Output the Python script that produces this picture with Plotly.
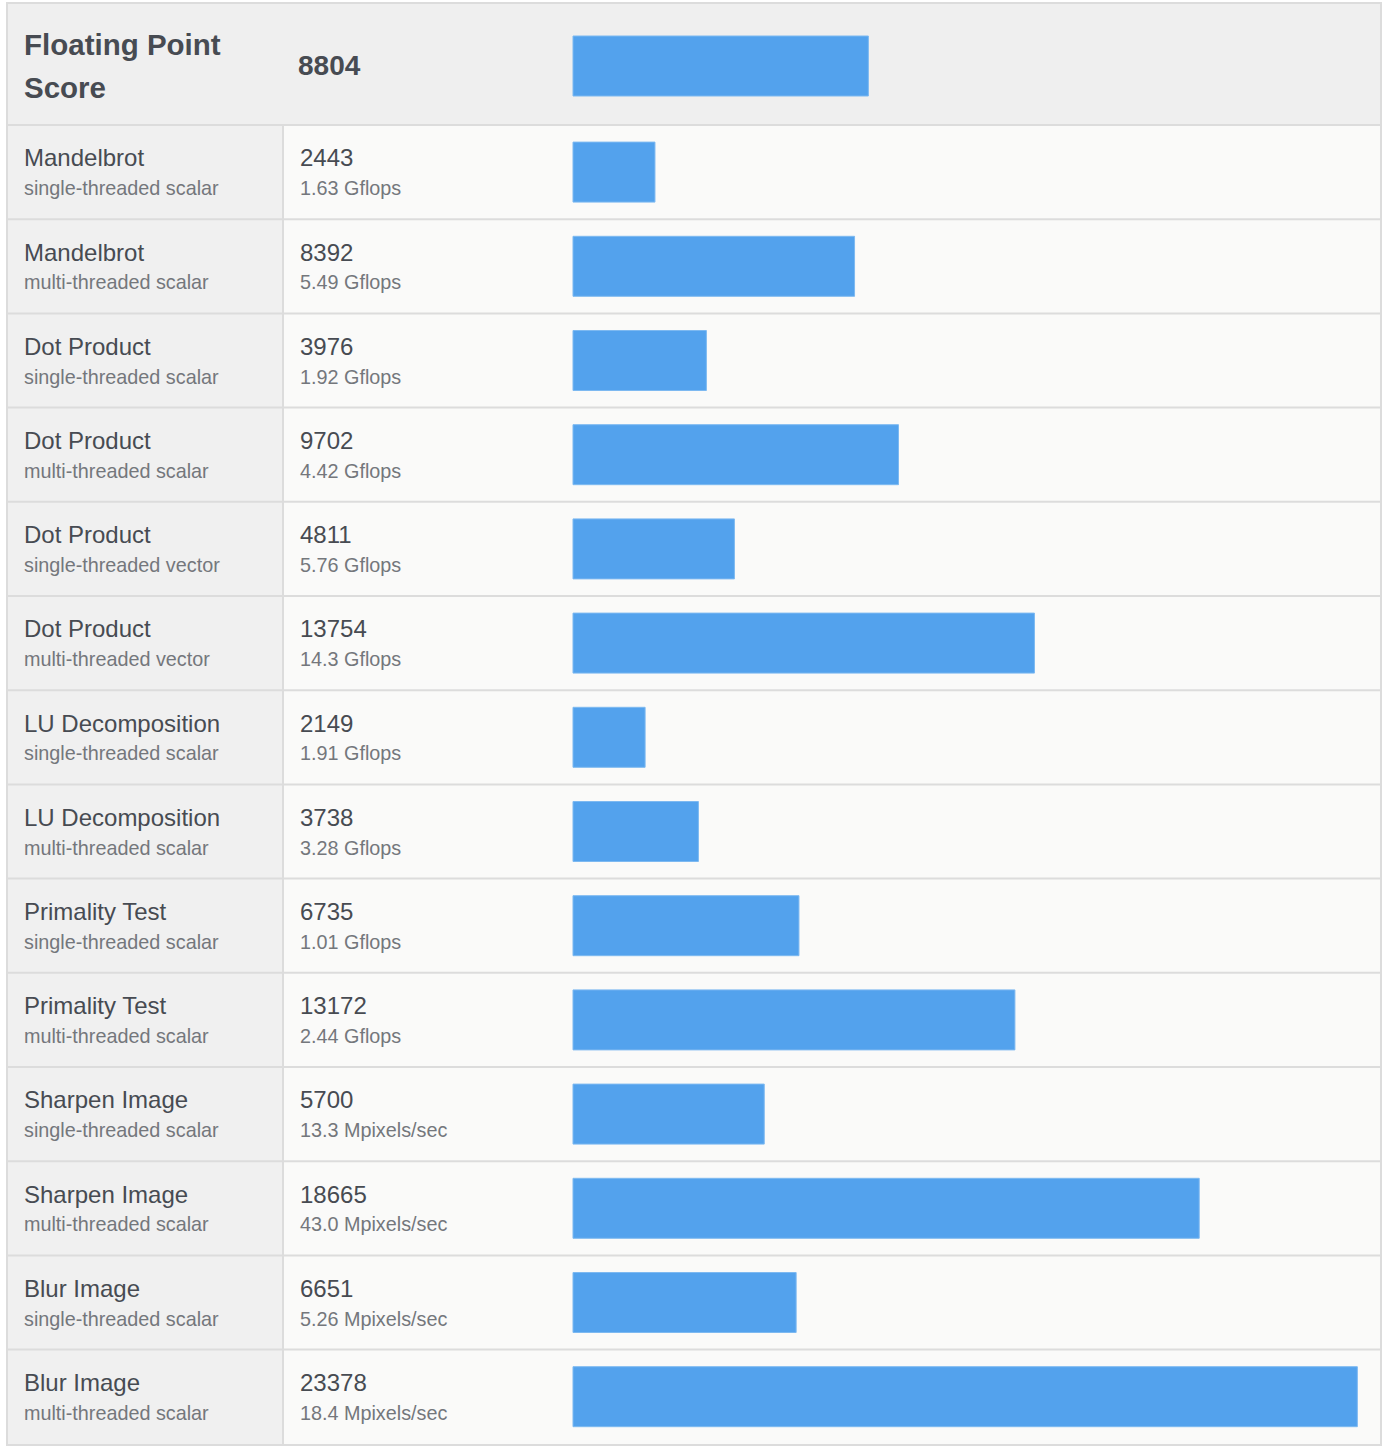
import plotly.graph_objects as go

# ---- data ----
header_title = ["Floating Point", "Score"]
header_score = 8804
tests = ["Mandelbrot", "Mandelbrot", "Dot Product", "Dot Product", "Dot Product", "Dot Product",
         "LU Decomposition", "LU Decomposition", "Primality Test", "Primality Test",
         "Sharpen Image", "Sharpen Image", "Blur Image", "Blur Image"]
modes = ["single-threaded scalar", "multi-threaded scalar", "single-threaded scalar", "multi-threaded scalar",
         "single-threaded vector", "multi-threaded vector", "single-threaded scalar", "multi-threaded scalar",
         "single-threaded scalar", "multi-threaded scalar", "single-threaded scalar", "multi-threaded scalar",
         "single-threaded scalar", "multi-threaded scalar"]
scores = [2443, 8392, 3976, 9702, 4811, 13754, 2149, 3738, 6735, 13172, 5700, 18665, 6651, 23378]
rates = ["1.63 Gflops", "5.49 Gflops", "1.92 Gflops", "4.42 Gflops", "5.76 Gflops", "14.3 Gflops",
         "1.91 Gflops", "3.28 Gflops", "1.01 Gflops", "2.44 Gflops", "13.3 Mpixels/sec",
         "43.0 Mpixels/sec", "5.26 Mpixels/sec", "18.4 Mpixels/sec"]

# ---- layout constants (pixels) ----
W, H = 1384, 1451
ROW_TOP, ROW_H = 125.0, 94.2
TABLE_L, TABLE_R, TABLE_T, TABLE_B = 7, 1381, 3, 1445
COL_DIV = 283
BAR_X0 = 573
SCALE = 0.03355  # px per score unit

def ypx(p):
    return 0.5 + (p - ROW_TOP) / ROW_H

def xp(p):
    return p / W

BAR_COLOR = "#53a2ed"
MAIN_COLOR = "#474b52"
SUB_COLOR = "#74777c"
LINE_COLOR = "#dcdcdc"
FONT = "Liberation Sans, Arial, sans-serif"

n = len(scores)
rows = list(range(1, n + 1))
header_y = ypx((TABLE_T + ROW_TOP) / 2 + 2)

fig = go.Figure()
fig.add_trace(go.Bar(
    x=scores, y=rows, orientation="h", width=60 / ROW_H,
    marker=dict(color=BAR_COLOR, line=dict(color="#7db9f1", width=1)),
    hoverinfo="x"))
fig.add_trace(go.Bar(
    x=[header_score], y=[header_y], orientation="h", width=60 / ROW_H,
    marker=dict(color=BAR_COLOR, line=dict(color="#7db9f1", width=1)),
    hoverinfo="x"))

shapes = []
shapes.append(dict(type="rect", xref="paper", yref="y", x0=xp(TABLE_L), x1=xp(TABLE_R),
                   y0=ypx(TABLE_T), y1=ypx(TABLE_B), fillcolor="#fafaf9",
                   line=dict(color=LINE_COLOR, width=2), layer="below"))
shapes.append(dict(type="rect", xref="paper", yref="y", x0=xp(TABLE_L), x1=xp(TABLE_R),
                   y0=ypx(TABLE_T), y1=0.5, fillcolor="#efefef",
                   line=dict(width=0), layer="below"))
shapes.append(dict(type="rect", xref="paper", yref="y", x0=xp(TABLE_L), x1=xp(COL_DIV),
                   y0=0.5, y1=ypx(TABLE_B), fillcolor="#f0f0f0",
                   line=dict(width=0), layer="below"))
shapes.append(dict(type="line", xref="paper", yref="y", x0=xp(COL_DIV), x1=xp(COL_DIV),
                   y0=0.5, y1=ypx(TABLE_B), line=dict(color=LINE_COLOR, width=2), layer="below"))
for r in rows:
    shapes.append(dict(type="line", xref="paper", yref="y", x0=xp(TABLE_L), x1=xp(TABLE_R),
                       y0=r - 0.5, y1=r - 0.5, line=dict(color=LINE_COLOR, width=2), layer="below"))
shapes.append(dict(type="rect", xref="paper", yref="y", x0=xp(TABLE_L), x1=xp(TABLE_R),
                   y0=ypx(TABLE_T), y1=ypx(TABLE_B), fillcolor="rgba(0,0,0,0)",
                   line=dict(color=LINE_COLOR, width=2), layer="below"))

TX1, TX2 = 22, 298
ann = []
ann.append(dict(text="<b>" + header_title[0] + "</b>", x=xp(TX1), y=ypx(44), xref="paper", yref="y",
                xanchor="left", yanchor="middle", showarrow=False,
                font=dict(size=29.5, color=MAIN_COLOR, family=FONT)))
ann.append(dict(text="<b>" + header_title[1] + "</b>", x=xp(TX1), y=ypx(87), xref="paper", yref="y",
                xanchor="left", yanchor="middle", showarrow=False,
                font=dict(size=29.5, color=MAIN_COLOR, family=FONT)))
ann.append(dict(text="<b>" + str(header_score) + "</b>", x=xp(296), y=ypx(65), xref="paper", yref="y",
                xanchor="left", yanchor="middle", showarrow=False,
                font=dict(size=28, color=MAIN_COLOR, family=FONT)))
for r, t, m, s, rt in zip(rows, tests, modes, scores, rates):
    ann.append(dict(text=t, x=xp(TX1), y=r - 0.15, xref="paper", yref="y", xanchor="left",
                    yanchor="middle", showarrow=False, font=dict(size=24, color=MAIN_COLOR, family=FONT)))
    ann.append(dict(text=m, x=xp(TX1), y=r + 0.17, xref="paper", yref="y", xanchor="left",
                    yanchor="middle", showarrow=False, font=dict(size=19.8, color=SUB_COLOR, family=FONT)))
    ann.append(dict(text=str(s), x=xp(TX2), y=r - 0.15, xref="paper", yref="y", xanchor="left",
                    yanchor="middle", showarrow=False, font=dict(size=24, color=MAIN_COLOR, family=FONT)))
    ann.append(dict(text=rt, x=xp(TX2), y=r + 0.17, xref="paper", yref="y", xanchor="left",
                    yanchor="middle", showarrow=False, font=dict(size=19.8, color=SUB_COLOR, family=FONT)))

fig.update_layout(
    width=W, height=H, margin=dict(l=0, r=0, t=0, b=0),
    paper_bgcolor="white", plot_bgcolor="white",
    showlegend=False, shapes=shapes, annotations=ann, barmode="overlay",
    xaxis=dict(range=[-BAR_X0 / SCALE, (W - BAR_X0) / SCALE], domain=[0, 1], visible=False, fixedrange=True),
    yaxis=dict(range=[ypx(H), ypx(0)], domain=[0, 1], visible=False, fixedrange=True),
)

fig.write_html("out.html", config={"displayModeBar": False},
               post_script="document.body.style.margin='0px';document.body.style.overflow='hidden';")
